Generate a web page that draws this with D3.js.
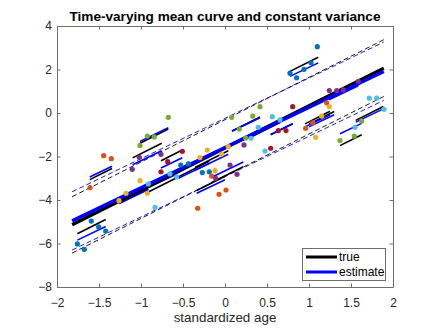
<!DOCTYPE html>
<html>
<head>
<meta charset="utf-8">
<script src="https://cdn.jsdelivr.net/npm/d3@7"></script>
<style>
  body { margin: 0; background: #fff; }
  svg text { font-family: "Liberation Sans", Arial, Helvetica, sans-serif; fill: #262626; }
</style>
</head>
<body>
<div id="chart"></div>
<script>
// population mean lines and +/- bands, given at the two ends of the age range
const meanX = [-1.82, 1.89];
const trueMean = [-5.14, 2.06];
const estMean = [-4.96, 1.91];
const trueUpper = [-3.85, 3.37];
const trueLower = [-6.44, 0.76];
const estUpper = [-3.62, 3.26];
const estLower = [-6.30, 0.58];

// one entry per subject
const subjColor = ["#D95319", "#0072BD", "#77AC30", "#7E2F8E", "#A2142F", "#EDB120", "#4DBEEE",
  "#0072BD", "#EDB120", "#D95319", "#7E2F8E", "#77AC30", "#4DBEEE", "#A2142F",
  "#0072BD", "#D95319", "#EDB120", "#7E2F8E", "#4DBEEE", "#77AC30"];
const subjStart = [-1.61, -1.758, -1.012, -1.10, -0.762, -1.262, -0.913, -0.556, -0.357, -0.337,
  -0.159, 0.083, 0.31, 0.544, 0.774, 0.952, 1.0, 1.238, 1.556, 1.369];
const subjEnd = [-1.345, -1.42, -0.675, -0.754, -0.508, -0.913, -0.575, -0.187, 0.039, 0.0,
  0.218, 0.417, 0.655, 0.806, 1.11, 1.25, 1.3, 1.587, 1.885, 1.627];
// vertical shift of each subject's line from the mean line
const trueOffset = [1.67, -0.53, 2.18, 1.68, 0.89, -0.1, -0.25, -0.25, -0.2, -1.30,
  -1.28, 0.62, -0.1, -0.45, 2.02, -0.74, -0.85, -0.16, -1.75, -2.55];
const estOffset = [1.63, -1.0, 2.16, 1.25, 0.47, -0.24, -0.15, -0.38, -0.38, -1.48,
  -1.07, 0.60, 0.0, -0.40, 1.84, -0.81, -0.9, -0.1, -1.71, -1.9];

// observations [age, value] per subject
const obs = [
  [[-1.607, -3.43], [-1.444, -1.96], [-1.354, -2.10]],
  [[-1.758, -6.02], [-1.675, -6.27], [-1.592, -4.97], [-1.504, -5.24], [-1.420, -5.43]],
  [[-1.012, -1.49], [-0.925, -1.06], [-0.842, -1.10], [-0.675, -0.20]],
  [[-1.104, -2.59], [-1.020, -2.04], [-0.762, -1.90]],
  [[-0.762, -2.70], [-0.682, -2.24], [-0.508, -1.76]],
  [[-1.262, -4.03], [-1.179, -3.69], [-1.012, -3.11], [-0.925, -3.69]],
  [[-0.913, -3.26], [-0.833, -4.34], [-0.655, -2.80], [-0.575, -2.93]],
  [[-0.527, -2.39], [-0.437, -2.34], [-0.270, -2.74], [-0.187, -2.70]],
  [[-0.298, -2.05], [-0.211, -1.70], [-0.119, -2.65], [-0.040, -1.89], [0.039, -1.55]],
  [[-0.325, -4.38], [-0.159, -2.90], [-0.071, -3.74], [0.012, -3.54]],
  [[-0.111, -3.00], [0.060, -2.39], [0.143, -2.82], [0.226, -1.47]],
  [[0.080, -0.20], [0.170, -0.74], [0.246, -1.15], [0.330, -0.14], [0.417, 0.29]],
  [[0.310, -1.16], [0.396, -0.66], [0.476, -1.75], [0.563, -0.17], [0.655, -0.32]],
  [[0.544, -1.62], [0.635, -0.81], [0.726, -0.81], [0.806, 0.29]],
  [[0.774, 1.83], [0.853, 1.62], [0.940, 2.01], [1.024, 2.31], [1.099, 3.05]],
  [[0.960, -0.70], [1.044, -0.45], [1.210, 0.47]],
  [[1.080, -1.12], [1.151, -0.14], [1.242, 0.29]],
  [[1.242, 1.03], [1.330, 1.03], [1.408, 1.06], [1.587, 1.46]],
  [[1.548, -0.66], [1.718, 0.68], [1.806, 0.68], [1.893, 0.17]],
  [[1.369, -1.27], [1.539, -1.06], [1.627, -0.37]]
];

const xTicks = [-2, -1.5, -1, -0.5, 0, 0.5, 1, 1.5, 2];
const yTicks = [-8, -6, -4, -2, 0, 2, 4];
const legendLabels = ["true", "estimate"];
const legendColors = ["#000000", "#0000ff"];

const width = 434;
const height = 330;
const plotL = 57, plotR = 393, plotT = 26, plotB = 287;

const x = d3.scaleLinear().domain([-2, 2]).range([plotL, plotR]);
const y = d3.scaleLinear().domain([-8, 4]).range([plotB, plotT]);

// mean lines as scales of age
const trueAt = d3.scaleLinear().domain(meanX).range(trueMean);
const estAt = d3.scaleLinear().domain(meanX).range(estMean);

const svg = d3.select("#chart").append("svg")
  .attr("width", width)
  .attr("height", height);

const line = d3.line().x((d) => x(d[0])).y((d) => y(d[1]));

// dashed bands
const bands = [
  { ys: trueUpper, color: "#000000" },
  { ys: trueLower, color: "#000000" },
  { ys: estUpper, color: "#0000ff" },
  { ys: estLower, color: "#0000ff" },
];
svg.append("g").selectAll("path")
  .data(bands)
  .enter()
  .append("path")
  .attr("d", (d) => line(meanX.map((mx, i) => [mx, d.ys[i]])))
  .attr("fill", "none")
  .attr("stroke", (d) => d.color)
  .attr("stroke-width", 0.9)
  .attr("stroke-dasharray", "5,3");

// subject lines
const subj = d3.range(subjColor.length);
svg.append("g").selectAll("path")
  .data(subj)
  .enter()
  .append("path")
  .attr("d", (i) => line([subjStart[i], subjEnd[i]].map((sx) => [sx, trueAt(sx) + trueOffset[i]])))
  .attr("fill", "none")
  .attr("stroke", "#000")
  .attr("stroke-width", 1.6);

svg.append("g").selectAll("path")
  .data(subj)
  .enter()
  .append("path")
  .attr("d", (i) => line([subjStart[i], subjEnd[i]].map((sx) => [sx, estAt(sx) + estOffset[i]])))
  .attr("fill", "none")
  .attr("stroke", "#0000ff")
  .attr("stroke-width", 1.6);

// mean lines
svg.append("path")
  .attr("d", line(meanX.map((mx, i) => [mx, trueMean[i]])))
  .attr("fill", "none")
  .attr("stroke", "#000")
  .attr("stroke-width", 3.5);

svg.append("path")
  .attr("d", line(meanX.map((mx, i) => [mx, estMean[i]])))
  .attr("fill", "none")
  .attr("stroke", "#0000ff")
  .attr("stroke-width", 3.5);

// observed points
const pts = [];
obs.forEach((list, i) => list.forEach((p) => pts.push({ x: p[0], y: p[1], c: subjColor[i] })));
svg.append("g").selectAll("circle")
  .data(pts)
  .enter()
  .append("circle")
  .attr("cx", (d) => x(d.x))
  .attr("cy", (d) => y(d.y))
  .attr("r", 2.6)
  .attr("fill", (d) => d.c);

// axes, MATLAB-like box with inward ticks
const tk = 3.5;
const axisColor = "#6e6e6e";

const gx = svg.append("g")
  .attr("transform", `translate(0,${plotB})`)
  .call(d3.axisBottom(x).tickValues(xTicks).tickSizeInner(-tk).tickSizeOuter(0).tickPadding(11)
    .tickFormat((d) => d3.format("")(d)));
const gxt = svg.append("g")
  .attr("transform", `translate(0,${plotT})`)
  .call(d3.axisTop(x).tickValues(xTicks).tickSizeInner(-tk).tickSizeOuter(0).tickFormat(""));
const gy = svg.append("g")
  .attr("transform", `translate(${plotL},0)`)
  .call(d3.axisLeft(y).tickValues(yTicks).tickSizeInner(-tk).tickSizeOuter(0).tickPadding(5));
const gyr = svg.append("g")
  .attr("transform", `translate(${plotR},0)`)
  .call(d3.axisRight(y).tickValues(yTicks).tickSizeInner(-tk).tickSizeOuter(0).tickFormat(""));

[gx, gxt, gy, gyr].forEach((g) => {
  g.select(".domain").attr("stroke", axisColor);
  g.selectAll(".tick line").attr("stroke", axisColor);
  g.selectAll("text").style("font-size", "12px").attr("fill", "#262626");
});

// title and label
svg.append("text")
  .attr("x", (plotL + plotR) / 2)
  .attr("y", 20.5)
  .attr("text-anchor", "middle")
  .attr("textLength", 311)
  .attr("lengthAdjust", "spacingAndGlyphs")
  .style("font-size", "13.2px")
  .style("font-weight", "bold")
  .style("fill", "#000")
  .text("Time-varying mean curve and constant variance");

svg.append("text")
  .attr("x", (plotL + plotR) / 2)
  .attr("y", 322)
  .attr("text-anchor", "middle")
  .style("font-size", "13.4px")
  .text("standardized age");

// legend
const lg = svg.append("g").attr("transform", "translate(302,248)");
lg.append("rect")
  .attr("x", 0.5)
  .attr("y", 0.5)
  .attr("width", 83)
  .attr("height", 32)
  .attr("fill", "#fff")
  .attr("stroke", axisColor);

const item = lg.selectAll("g.item")
  .data(legendLabels)
  .enter()
  .append("g")
  .attr("class", "item")
  .attr("transform", (d, i) => `translate(0,${9 + i * 15})`);

item.append("line")
  .attr("x1", 4)
  .attr("x2", 35)
  .attr("stroke", (d, i) => legendColors[i])
  .attr("stroke-width", 3);

item.append("text")
  .attr("x", 37)
  .attr("dy", "0.35em")
  .style("font-size", "12px")
  .style("fill", "#000")
  .text((d) => d);
</script>
</body>
</html>
